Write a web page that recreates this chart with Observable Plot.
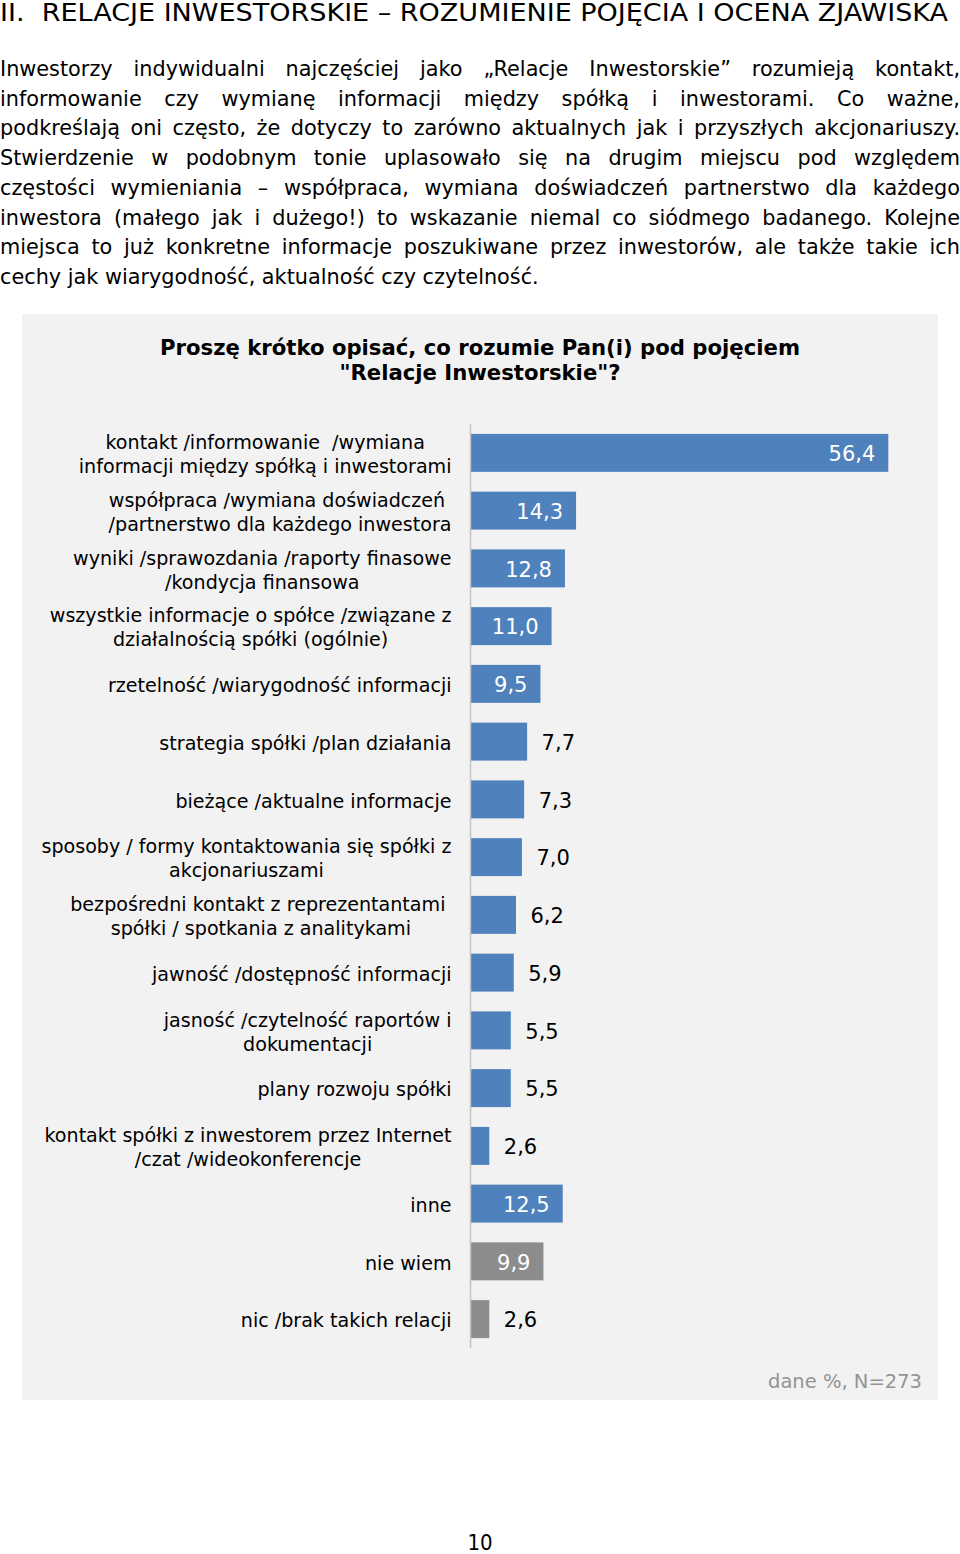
<!DOCTYPE html>
<html lang="pl">
<head>
<meta charset="utf-8">
<script src="https://cdn.jsdelivr.net/npm/d3@7"></script>
<script src="https://cdn.jsdelivr.net/npm/@observablehq/plot@0.6"></script>
<style>
  html, body { margin: 0; padding: 0; background: #fff; }
  body { width: 960px; height: 1554px; position: relative; font-family: "DejaVu Sans", Verdana, sans-serif; color: #000; overflow: hidden; }
  #heading { position: absolute; left: 0; top: -1px; font-family: "DejaVu Sans Condensed", "DejaVu Sans", sans-serif; font-size: 25px; line-height: 28px; white-space: nowrap; transform-origin: 0 0; }
  #para { position: absolute; left: 0; top: 55px; width: 960px; font-size: 20.8px; line-height: 29.7px; }
  #para div { text-align: justify; text-align-last: justify; white-space: nowrap; }
  #para div.last { text-align-last: left; }
  #panel { position: absolute; left: 22px; top: 314px; width: 916px; height: 1086px; background: #f2f2f2; }
  #title { position: absolute; left: 0; top: 21px; width: 916px; text-align: center; font-weight: bold; font-size: 21.2px; line-height: 25px; }
  #chart { position: absolute; left: 0; top: 90px; }
  #note { position: absolute; right: 16px; top: 1056px; font-size: 19.5px; color: #939393; line-height: 24px; }
  #pagenum { position: absolute; left: 0; width: 960px; top: 1530px; text-align: center; font-family: "DejaVu Sans Condensed", "DejaVu Sans", sans-serif; font-size: 22px; }
</style>
</head>
<body>
<div id="heading">II.&nbsp; RELACJE INWESTORSKIE – ROZUMIENIE POJĘCIA I OCENA ZJAWISKA</div>
<div id="para">
  <div>Inwestorzy indywidualni najczęściej jako „Relacje Inwestorskie” rozumieją kontakt,</div>
  <div>informowanie czy wymianę informacji między spółką i inwestorami. Co ważne,</div>
  <div>podkreślają oni często, że dotyczy to zarówno aktualnych jak i przyszłych akcjonariuszy.</div>
  <div>Stwierdzenie w podobnym tonie uplasowało się na drugim miejscu pod względem</div>
  <div>częstości wymieniania – współpraca, wymiana doświadczeń partnerstwo dla każdego</div>
  <div>inwestora (małego jak i dużego!) to wskazanie niemal co siódmego badanego. Kolejne</div>
  <div>miejsca to już konkretne informacje poszukiwane przez inwestorów, ale także takie ich</div>
  <div class="last">cechy jak wiarygodność, aktualność czy czytelność.</div>
</div>
<div id="panel">
  <div id="title">Proszę krótko opisać, co rozumie Pan(i) pod pojęciem<br>"Relacje Inwestorskie"?</div>
  <div id="chart"></div>
  <div id="note">dane %, N=273</div>
</div>
<div id="pagenum">10</div>
<script>
// ---- data ----
const categories = [
  "kontakt /informowanie \u00a0/wymiana\ninformacji między spółką i inwestorami",
  "współpraca /wymiana doświadczeń\u00a0\n/partnerstwo dla każdego inwestora",
  "wyniki /sprawozdania /raporty finasowe\n/kondycja finansowa",
  "wszystkie informacje o spółce /związane z\ndziałalnością spółki (ogólnie)",
  "rzetelność /wiarygodność informacji",
  "strategia spółki /plan działania",
  "bieżące /aktualne informacje",
  "sposoby / formy kontaktowania się spółki z\nakcjonariuszami",
  "bezpośredni kontakt z reprezentantami\u00a0\nspółki / spotkania z analitykami",
  "jawność /dostępność informacji",
  "jasność /czytelność raportów i\ndokumentacji",
  "plany rozwoju spółki",
  "kontakt spółki z inwestorem przez Internet\n/czat /wideokonferencje",
  "inne",
  "nie wiem",
  "nic /brak takich relacji"
];
const values = [56.4, 14.3, 12.8, 11.0, 9.5, 7.7, 7.3, 7.0, 6.2, 5.9, 5.5, 5.5, 2.6, 12.5, 9.9, 2.6];
const groups = ["odpowiedź", "odpowiedź", "odpowiedź", "odpowiedź", "odpowiedź", "odpowiedź", "odpowiedź", "odpowiedź",
                "odpowiedź", "odpowiedź", "odpowiedź", "odpowiedź", "odpowiedź", "odpowiedź", "brak odpowiedzi", "brak odpowiedzi"];
const groupNames = ["odpowiedź", "brak odpowiedzi"];
const groupColors = ["#4f81bd", "#8c8c8c"];

const rows = categories.map((label, i) => ({key: i, label, value: values[i], group: groups[i]}));
const fmt = v => v.toFixed(1).replace(".", ",");

// ---- heading width fit (horizontal stretch) ----
(function () {
  const h = document.getElementById("heading");
  const w = h.getBoundingClientRect().width;
  h.style.transform = `scaleX(${948 / w})`;
})();

// ---- layout helpers ----
const LABEL_FONT = 19.1;
const canvas = document.createElement("canvas");
const ctx = canvas.getContext("2d");
ctx.font = `${LABEL_FONT}px "DejaVu Sans"`;
const blockWidth = s => Math.max(...s.split("\n").map(l => ctx.measureText(l).width));

const labelMarks = rows.map(r => Plot.text([r], {
  x: () => 0, y: "key", text: "label",
  textAnchor: "middle", lineAnchor: "middle", lineHeight: 1.26,
  fontSize: LABEL_FONT, fill: "#000",
  dx: -(19 + blockWidth(r.label) / 2)
}));

const chart = Plot.plot({
  width: 916,
  height: 964,
  marginLeft: 448,
  marginRight: 23,
  marginTop: 20,
  marginBottom: 20,
  style: {fontFamily: "DejaVu Sans", background: "transparent", overflow: "visible"},
  x: {domain: [0, 60], axis: null},
  y: {domain: d3.range(categories.length), axis: null, padding: 0, round: false},
  color: {domain: groupNames, range: groupColors},
  marks: [
    Plot.barX(rows, {x: "value", y: "key", fill: "group", insetTop: 9.9, insetBottom: 9.9}),
    Plot.ruleX([0], {stroke: "#c4c4c4", strokeWidth: 1.5}),
    Plot.text(rows.filter(r => r.value >= 9), {
      x: "value", y: "key", text: r => fmt(r.value),
      textAnchor: "end", dx: -13.5, dy: 1, fill: "#fff", fontSize: 21
    }),
    Plot.text(rows.filter(r => r.value < 9), {
      x: "value", y: "key", text: r => fmt(r.value),
      textAnchor: "start", dx: 14, dy: 1, fill: "#000", fontSize: 21
    }),
    ...labelMarks
  ]
});
document.getElementById("chart").appendChild(chart);
</script>
</body>
</html>
